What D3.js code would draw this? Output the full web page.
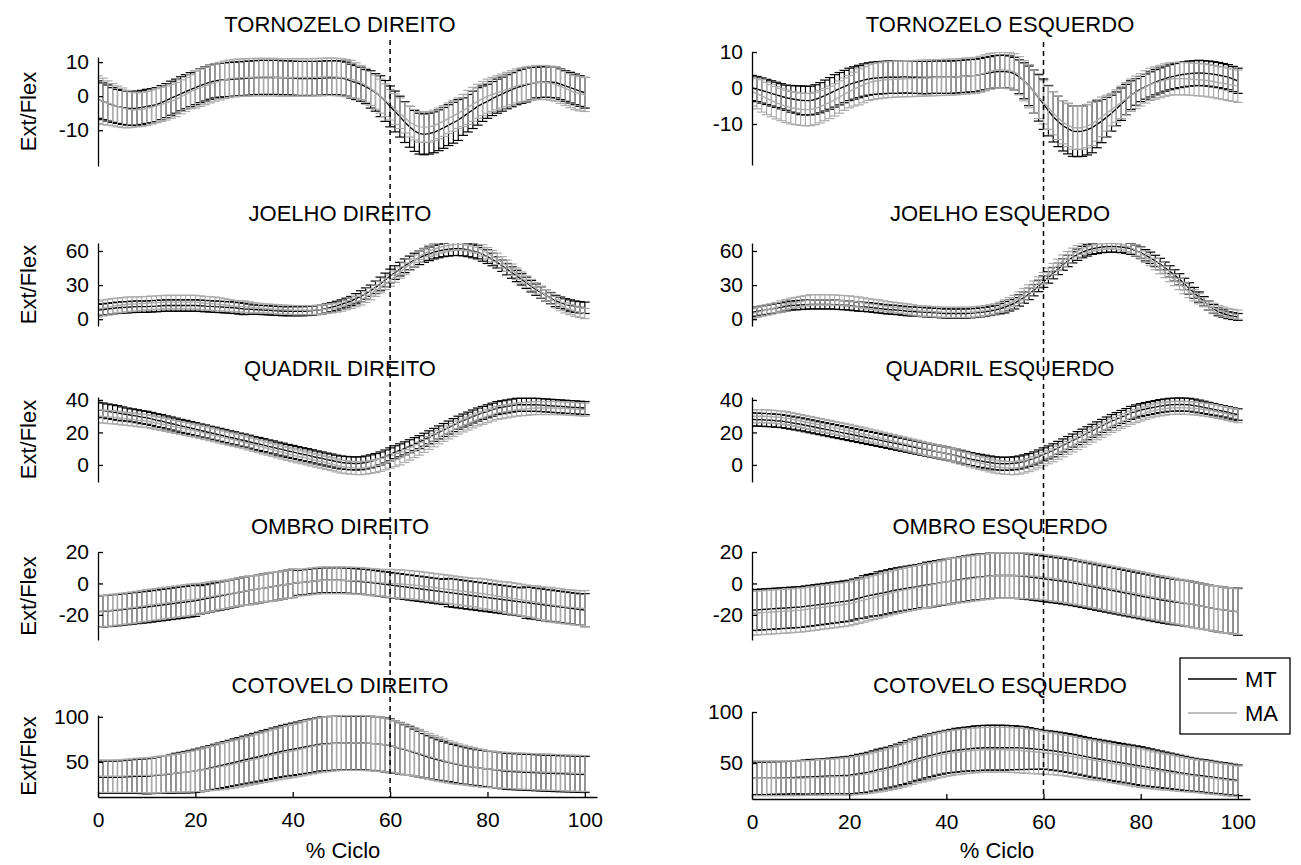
<!DOCTYPE html>
<html>
<head>
<meta charset="utf-8">
<script src="https://cdn.jsdelivr.net/npm/d3@7"></script>
<style>
  body { margin: 0; background: #fff; }
  svg text { font-family: "Liberation Sans", Arial, sans-serif; fill: #000; }
</style>
</head>
<body>
<svg id="fig" width="1301" height="865"></svg>
<script>
// Percentage of the gait cycle for every mean/SD sample
const cyclePct = [0,1,2,3,4,5,6,7,8,9, 10,11,12,13,14,15,16,17,18,19, 20,21,22,23,24,25,26,27,28,29,
  30,31,32,33,34,35,36,37,38,39, 40,41,42,43,44,45,46,47,48,49, 50,51,52,53,54,55,56,57,58,59,
  60,61,62,63,64,65,66,67,68,69, 70,71,72,73,74,75,76,77,78,79, 80,81,82,83,84,85,86,87,88,89,
  90,91,92,93,94,95,96,97,98,99, 100];

const xTicks = [0, 20, 40, 60, 80, 100];
const tornozeloTicks = [-10, 0, 10];
const joelhoTicks = [0, 30, 60];
const quadrilTicks = [0, 20, 40];
const ombroTicks = [-20, 0, 20];
const cotoveloTicks = [50, 100];
const eventPct = 60;          // toe-off marker
const groupNames = ["MT", "MA"];

// ---- Tornozelo direito ----
const tornozeloDirMT = [-1,-1.5,-2,-2.6,-3,-3.3,-3.5,-3.6,-3.5,-3.3, -3,-2.8,-2.5,-1.9,-1.3,-0.6,0,0.7,1.3,1.9,
  2.5,3.1,3.6,4.1,4.5,4.7,4.8,4.9,5,5.1, 5.2,5.3,5.4,5.5,5.5,5.5,5.5,5.5,5.4,5.4,
  5.3,5.2,5.2,5.2,5.2,5.2,5.3,5.4,5.4,5.4, 5.3,5,4.4,4,3.5,2.8,2,1.1,0,-1.4,
  -3,-4.5,-6,-7.6,-9,-10.2,-11,-11.2,-11,-10.6, -10,-9.3,-8.5,-7.8,-7,-6,-5,-4,-3,-2.2,
  -1.5,-0.7,0,0.6,1.3,1.9,2.5,2.9,3.3,3.7, 4,4.1,4.2,4.1,4,3.5,3,2.5,2,1.5, 1];
const tornozeloDirMTsd = [5.5,5.4,5.3,5.1,5,5,5,5,5,5, 5,5,5,5,5,5,5,5,5,5, 5,5,5,5,5,5,5,5,5,5,
  5,5,5,5,5,5,5,5,5,5, 5,5,5,5,5,5,5,5,5,5, 5,5,5,5,5,5,5.5,5.5,6,6,
  6,6,6,6,6,6,6,6,6,6, 6,6,6,6,6,5.5,5.5,5.5,5.5,5.2, 5,5,5,5,5,5,5,5,5,4.8,
  4.5,4.5,4.5,4.5,4.5,4.5,4.5,4.5,4.5,4.5, 4.5];
const tornozeloDirMA = [-1,-1.5,-2,-2.5,-3,-3.4,-3.8,-4,-4,-3.9, -3.6,-3.2,-2.8,-2.4,-2,-1.5,-1,-0.2,0.5,1.3,
  2,2.5,3,3.5,4,4.4,4.8,5.1,5.3,5.4, 5.5,5.5,5.6,5.6,5.6,5.6,5.6,5.5,5.5,5.5,
  5.5,5.5,5.5,5.5,5.5,5.6,5.6,5.7,5.7,5.6, 5.5,5.3,5,4.6,4,3.2,2.3,1.2,0,-1.2,
  -2.5,-3.8,-5,-6.3,-7.5,-8.4,-9,-9.1,-9,-8.6, -8,-7.3,-6.5,-5.8,-5,-4.2,-3.3,-2.4,-1.5,-0.7,
  0,0.5,1,1.5,2,2.5,3,3.3,3.6,3.8, 4,4,4,3.8,3.5,2.9,2.3,1.6,1,0.7, 0.5];
const tornozeloDirMAsd = [7,6.8,6.5,6.2,6,5.8,5.5,5.2,5,5, 5,5,5,5,5,5,5,5,5,5,
  5.5,5.5,5.5,5.5,5.5,5.5,5.5,5.5,5.5,5.5, 5.5,5.5,5.5,5.5,5.5,5.5,5.5,5.5,5.5,5.5,
  5.5,5.5,5.5,5.5,5.5,5.5,5.5,5.5,5.5,5.5, 5.5,5.5,5.5,5.2,5,5,5,5,5,4.8,
  4.5,4.5,4.5,4.5,4.5,4.5,4.5,4.5,4.5,4.5, 4.5,4.5,4.5,4.5,4.5,4.7,5,5,5,5,
  5,5,5,5,5,5,5,5,5,5, 5,5,5,5,5,5,5,5,5,5, 5];

// ---- Joelho direito ----
const joelhoDirMT = [8,8.5,9,9.5,10,10.3,10.5,10.8,11,11, 11,11.3,11.5,11.8,12,12,12,12,12,12,
  12,11.8,11.5,11.3,11,10.8,10.5,10.3,10,9.5, 9,8.8,8.5,8.3,8,7.8,7.5,7.3,7,7,
  7,7,7,7.2,7.5,8,8.5,9.4,10.5,11.7, 13,14.5,16,18,20,22.5,25,28,31,34.5,
  38,41,44,47,49.5,52,54,56,57.5,59, 60,61,61.5,62,62,61.7,61,60,59,57,
  55,52.5,50,47,44,41,38,35,32,29, 26,23.5,21,18.5,16,14.5,13,12,11,10.5, 10];
const joelhoDirMTsd = [5,5,5,5,5,5,5,5,5,5, 5,5,5,5,5,5,5,5,5,5, 5,5,5,5,5,5,5,5,5,5,
  5,4.5,4,4,4,4,4,4,4,4, 4,4,4,4,4,4,4,4,4,4, 4,4,4,4.5,5,5,5,5.5,6,6,
  6,6,6,6,6,6,6,6,6,6, 6,6,6,6,6,6,6,6,6,6, 6,5.5,5,5,5,5,5,5,5,5,
  5,5,5,5,5,5,5,5,5,5, 5];
const joelhoDirMA = [9,9.8,10.5,11.3,12,12.5,13,13.3,13.5,13.8, 14,14.3,14.5,14.8,15,15,15,15,15,15,
  15,14.5,14,13.8,13.5,13,12.5,12,11.5,11.3, 11,10.5,10,9.8,9.5,9.3,9,8.8,8.5,8.3,
  8,8,8,8,8,8.2,8.5,9,9.5,10.2, 11,12.5,14,15.5,17,19.5,22,25,28,31,
  34,37.5,41,44.5,48,51.5,55,57.5,60,61.5, 63,64,65,65.5,66,65.7,65,64,63,60.5,
  58,55.5,53,50,47,43.5,40,36.5,33,30, 27,24,21,18,15,12.5,10,8.5,7,6, 5];
const joelhoDirMAsd = [7,7,7,6.8,6.5,6.5,6.5,6.3,6,6, 6,6,6,6,6,6,6,6,6,6,
  6,6,6,6,6,5.8,5.5,5.2,5,5, 5,4.8,4.5,4.2,4,4,4,4,4,4, 4,4,4,4,4,4,4,4,4,4,
  4,4.2,4.5,4.5,4.5,4.8,5,5,5,5, 5,5,5,5,5,5,5,5,5,5, 5,5,5,5,5,5,5,5,5,5,
  5,5,5,5,5,5,5,5,5,5, 5,5,5,5,5,5,4.5,4.5,4.5,4.5, 4.5];

// ---- Quadril direito ----
const quadrilDirMT = [34,33.6,33,32.5,32,31.4,31,30.5,30,29.4, 29,28.3,27.5,27,26.2,25.5,24.8,24,23.4,22.7,
  22,21.2,20.6,19.8,19.2,18.5,17.8,17,16.4,15.6, 15,14.3,13.5,12.9,12.2,11.4,10.8,10,9.4,8.6,
  8,7.3,6.6,6,5.3,4.6,4,3.3,2.7,2, 1.5,1.2,1,0.9,1,1.5,2.2,3,4,5.2,
  6.5,7.8,9,10.2,11.5,12.8,14,15.5,17,18.5, 20,21.5,23,24.5,26,27.3,28.5,29.8,31,32,
  33,34,35,35.5,36,36.5,37,37,37,37, 37,36.8,36.6,36.4,36.2,36,35.8,35.6,35.4,35.2, 35];
const quadrilDirMTsd = [4.5,4.5,4.5,4.5,4.5,4.3,4,4,4,4, 4,4,4,4,4,4,4,4,4,4, 4,4,4,4,4,4,4,4,4,4,
  4,4,4,4,4,4,4,4,4,4, 4,4,4,4,4,4,4,4,4,4, 4,4,4,4,4,4,4,4,4,4,
  4,4,4,4,4,4,4,4,4,4, 4,4,4,4,4,4,4,4,4,4, 4,4,4,4,4,4,4,4,4,4,
  4,4,4,4,4,4,4,4,4,4, 4];
const quadrilDirMA = [30,29.8,29.5,29.3,29,28.6,28.3,28,27.6,27.3, 27,26.4,25.8,25.2,24.6,24,23.4,22.8,22.2,21.6,
  21,20.3,19.6,18.9,18.2,17.5,16.8,16.1,15.4,14.7, 14,13.2,12.4,11.6,10.8,10,9.2,8.4,7.6,6.8,
  6,5.3,4.7,4,3.3,2.6,2,1.2,0.5,-0.3, -1,-1.4,-1.7,-1.9,-2,-1.7,-1.2,-0.7,0,1,
  2,3,4,5.5,7,8.5,10,11.7,13.5,15.2, 17,18.5,20,21.5,23,24.3,25.5,26.8,28,29,
  30,31,32,32.5,33,33.5,34,34.3,34.5,34.8, 35,35,35,35,35,34.9,34.8,34.6,34.4,34.2, 34];
const quadrilDirMAsd = [4,4,4,4,4,4,4,4,4,4, 4,4,4,4,4,4,4,4,4,4, 4,4,4,4,4,4,4,4,4,4,
  4,4,4,4,4,4,4,4,4,4, 4,4,4,4,4,4,4,4,4,4, 4,4,4,4,4,4,4,4,4,4,
  4,4,4,4,4,4,4,4,4,4, 4,4,4,4,4,4,4,4,4,4, 4,4,4,4,4,4,4,4,4,4,
  4,4,4,4,4,4,4,4,4,4, 4];

// ---- Ombro direito ----
const ombroDirMT = [-18,-17.7,-17.5,-17.2,-17,-16.6,-16.3,-15.9,-15.6,-15.3, -15,-14.6,-14.2,-13.8,-13.4,-13,-12.6,-12.2,-11.8,-11.4,
  -11,-10.4,-9.8,-9.2,-8.6,-8,-7.4,-6.8,-6.2,-5.6, -5,-4.5,-4,-3.5,-3,-2.5,-2,-1.5,-1,-0.5,
  0,0.4,0.7,1,1.4,1.7,2,2,2,2, 2,1.8,1.6,1.4,1.2,0.9,0.6,0.2,-0.2,-0.6,
  -1,-1.4,-1.8,-2.2,-2.6,-3,-3.4,-3.8,-4.2,-4.6, -5,-5.4,-5.8,-6.2,-6.6,-7,-7.4,-7.8,-8.2,-8.6,
  -9,-9.4,-9.8,-10.2,-10.6,-11,-11.4,-11.8,-12.2,-12.6, -13,-13.4,-13.8,-14.2,-14.6,-15,-15.4,-15.8,-16.2,-16.6, -17];
const ombroDirMTsd = [10,10,10,10,10,10,10,10,10,10, 10,10,10,10,10,10,10,10,10,10,
  10,9,9,9,9,9,9,9,9,9, 9,9,9,9,9,9,9,9,9,9, 9,8,8,8,8,8,8,8,8,8,
  8,8,8,8,8,8,8,8,8,8, 8,8,8,8,8,8,8,8,8,8, 8,8,9,9,9,9,9,9,9,9,
  9,9,9,9,9,9,9,9,10,10, 10,10,10,10,10,10,10,10,10,10, 10.5];
const ombroDirMA = [-18,-17.6,-17.3,-16.9,-16.5,-16.2,-15.8,-15.4,-15,-14.5, -14,-13.6,-13.2,-12.8,-12.4,-12,-11.6,-11.2,-10.8,-10.4,
  -10,-9.5,-9,-8.5,-8,-7.5,-7,-6.5,-6,-5.5, -5,-4.5,-4,-3.5,-3,-2.5,-2,-1.5,-1,-0.5,
  0,0.4,0.7,1,1.4,1.7,2,2,2,2, 2,1.9,1.8,1.7,1.6,1.3,1,0.8,0.5,0.3,
  0,-0.2,-0.4,-0.6,-0.8,-1.1,-1.4,-1.8,-2.2,-2.6, -3,-3.4,-3.8,-4.2,-4.6,-5,-5.4,-5.8,-6.2,-6.6,
  -7,-7.5,-8,-8.5,-9,-9.5,-10,-10.5,-11,-11.5, -12,-12.5,-13,-13.5,-14,-14.4,-14.8,-15.1,-15.4,-15.7, -16];
const ombroDirMAsd = [10,10,10,10,10,10,10,10,10,10, 10,10,10,10,10,10,10,10,10,10,
  10,9.5,9.5,9.5,9.5,9,9,9,9,9, 9,9,9,9,9,9,9,9,9,9, 9,8.5,8.5,8.5,8.5,8.5,8.5,8.5,8.5,8.5,
  8.5,8.5,8.5,8.5,8.5,8.5,8.5,8.5,8.5,8.5, 9,9,9,9,9,9,9,9,9,9, 9,9,9,9,9,9,9,9,9.5,9.5,
  9.5,9.5,9.5,9.5,10,10,10,10,10,10, 10.5,10.5,10.5,11,11,11,11,11,11,11, 11.5];

// ---- Cotovelo direito ----
const cotoveloDirMT = [33,33,33,33,33,33.2,33.5,33.7,34,34, 34,34.5,35,35.5,36,36.7,37.5,38,38.5,39.2,
  40,41,42,43.2,44.5,45.7,47,48.2,49.5,50.7, 52,53.2,54.5,55.7,57,58.2,59.5,60.7,62,63,
  64,65,66,67,68,69,70,70.2,70.5,70.8, 71,71,71,71,71,70.8,70.5,70,69.5,68.8,
  68,66.5,65,63.5,62,60.2,58.5,56.7,55,53.5, 52,50.7,49.5,48.2,47,46,45,44.2,43.5,42.7,
  42,41.5,41,40.2,39.5,39.2,39,38.7,38.5,38.2, 38,37.7,37.5,37.2,37,36.9,36.8,36.6,36.4,36.2, 36];
const cotoveloDirMTsd = [18,18,18,18,18,18.2,18.5,18.7,19,19.2, 19.5,19.7,20,20.5,21,21.5,22,22.5,23,23.5,
  24,24.2,24.5,24.7,25,25.2,25.5,25.7,26,26.2, 26.5,26.7,27,27.2,27.5,27.7,28,28.2,28.5,28.7,
  29,29.2,29.5,29.7,30,30,30,30,30,30, 30,30,30,30,30,30,30,30,30,30,
  30,29.2,28.5,27.7,27,26.2,25.5,24.7,24,23.2, 22.5,22,21.5,21.2,21,20.7,20.5,20.2,20,20,
  20,20,20,20,20,20,20,20,20,20, 20,20,20,20,20,20,20,20,20,20, 20];
const cotoveloDirMA = [34,34,34,34,34,34.2,34.5,34.7,35,35, 35,35.2,35.5,36,36.5,37,37.5,38,38.5,39.2,
  40,40.7,41.5,42.5,43.5,44.5,45.5,46.5,47.5,48.7, 50,51.2,52.5,53.7,55,56.2,57.5,58.7,60,61,
  62,63.2,64.5,65.7,67,68,69,69.5,70,70.5, 71,71,71,71,71,70.8,70.5,70,69.5,68.8,
  68,66.7,65.5,64,62.5,61,59.5,57.7,56,54.5, 53,51.5,50,48.7,47.5,46.5,45.5,44.5,43.5,42.7,
  42,41.6,41.2,40.8,40.5,40.2,40,39.7,39.5,39.2, 39,38.8,38.6,38.4,38.2,38,37.8,37.6,37.4,37.2, 37];
const cotoveloDirMAsd = [18,18,18,18,18,18.2,18.5,18.7,19,19.2, 19.5,19.7,20,20.2,20.5,20.7,21,21.5,22,22.5,
  23,23.5,24,24.5,25,25.5,26,26.2,26.5,26.7, 27,27.2,27.5,27.7,28,28.2,28.5,28.7,29,29.2,
  29.5,29.7,30,30.2,30.5,30.5,30.5,30.5,30.5,30.5, 30.5,30.5,30.5,30.5,30.5,30.5,30.5,30.5,30,29.7,
  29.5,29,28.5,28,27.5,27,26.5,26,25.5,25, 24.5,24,23.5,23,22.5,22,21.7,21.5,21,21,
  20.5,20.2,20,20,20,20,20,20,20,20, 20,20,20,20,20,20,20,20,20,20, 20];

// ---- Tornozelo esquerdo ----
const tornozeloEsqMT = [0,-0.3,-0.7,-1.1,-1.5,-1.9,-2.3,-2.7,-3,-3.2, -3.4,-3.5,-3.5,-3.2,-2.7,-2.1,-1.5,-0.8,-0.2,0.4,
  1,1.4,1.8,2.2,2.5,2.7,2.8,2.9,3,3, 3,3.1,3.1,3,3,2.9,2.9,3,3,3,
  3,3,3.1,3.2,3.3,3.4,3.5,3.7,4,4.2, 4.5,4.6,4.6,4.4,4,3.1,2,0.6,-1,-2.7,
  -4.5,-6.3,-8,-9.3,-10.5,-11.3,-12,-12.1,-12,-11.6, -11,-10.1,-9.2,-8.1,-7,-5.8,-4.5,-3.2,-2,-1.1,
  -0.3,0.4,1,1.6,2.1,2.6,3,3.3,3.6,3.8, 4,4.1,4.2,4.1,4,3.8,3.6,3.3,3,2.5, 2];
const tornozeloEsqMTsd = [3.5,3.5,3.5,3.5,3.5,3.5,3.5,3.5,3.7,3.8, 4,4,4,4.1,4.2,4.3,4.4,4.5,4.5,4.5,
  4.5,4.5,4.5,4.5,4.5,4.5,4.5,4.5,4.5,4.5, 4.5,4.5,4.5,4.5,4.5,4.5,4.5,4.5,4.5,4.5,
  4.5,4.5,4.5,4.5,4.5,4.5,4.5,4.5,4.5,4.5, 4.5,4.5,4.5,4.5,4.5,4.7,5,5.5,6,6.5,
  7,7,7,7,7,7,7,7,7,7, 7,6.5,6,5.5,5,4.7,4.5,4.2,4,3.7, 3.5,3.5,3.5,3.5,3.5,3.5,3.5,3.5,3.5,3.5,
  3.5,3.5,3.5,3.5,3.5,3.5,3.5,3.5,3.5,3.5, 3.5];
const tornozeloEsqMA = [-1,-1.6,-2.2,-2.9,-3.5,-4.1,-4.6,-5.1,-5.5,-5.7, -5.9,-6,-6,-5.7,-5.2,-4.6,-4,-3.3,-2.5,-1.7,
  -1,-0.3,0.3,0.9,1.5,1.8,2,2.2,2.3,2.4, 2.5,2.5,2.6,2.6,2.7,2.7,2.8,2.8,2.9,2.9,
  3,3,3.1,3.2,3.3,3.4,3.5,3.8,4.2,4.6, 5,5,5,4.8,4.5,3.4,2,0.5,-1,-2.5,
  -4,-5.5,-7,-8.3,-9.5,-10.3,-11,-11.1,-11,-10.6, -10,-9,-8,-7,-6,-5,-4,-3,-2,-1.2,
  -0.5,0.3,1,1.4,1.8,2.2,2.5,2.6,2.6,2.6, 2.5,2.4,2.3,2.2,2,1.8,1.5,1.3,1,0.8, 0.5];
const tornozeloEsqMAsd = [4,4.2,4.5,4.5,4.5,4.5,4.5,4.5,4.5,4.5, 4.5,4.5,4.5,4.5,4.5,4.5,4.5,4.5,4.5,4.5,
  4.5,4.7,5,5,5,5,5,5,5,5, 5,5,5,5,5,5,5,5,5,5, 5,5,5,5,5,5,5,5,5,5,
  5,5,5,5,5,5.3,5.6,6,6,6, 6,6,6,6,6,6,6,6,6,6, 6,5.8,5.5,5,4.5,4.5,4.5,4.5,4.5,4.5,
  4.5,4.5,4.5,4.5,4.5,4.5,4.5,4.5,4.5,4.5, 4.5,4.5,4.5,4.5,4.5,4.5,4.5,4.5,4.5,4.5, 4.5];

// ---- Joelho esquerdo ----
const joelhoEsqMT = [6,6.7,7.5,8.2,9,9.8,10.5,11.3,12,12.2, 12.5,12.8,13,13,13,13,13,12.8,12.5,12.3,
  12,11.5,11,10.8,10.5,10,9.5,9,8.5,8.3, 8,7.5,7,6.8,6.5,6.3,6,5.8,5.5,5.2,
  5,5,5,5,5,5.2,5.5,6,6.5,7.2, 8,9.2,10.5,12.2,14,16.5,19,22.2,25.5,29.2,
  33,36.7,40.5,44.2,48,51.2,54.5,56.7,59,60.5, 62,62.7,63.5,63.8,64,63.8,63.5,62.8,62,60.2,
  58.5,56.2,54,51.2,48.5,45.2,42,38.5,35,31, 27,23.2,19.5,15.7,12,9.2,6.5,5,3.5,2.7, 2];
const joelhoEsqMTsd = [4,4,4,4,4,4,4,4,4,4, 4,4,4,4,4,4,4,4,4,4, 4,4,4,4,4,4,4,4,4,4,
  4,4,4,4,4,4,4,4,4,4, 4,4,4,4,4,4,4,4,4,4, 4,4.5,5,5,5,5,5,5,5,5,
  5,5,5,5,5,5,5,5,5,5, 5,5,5,5,5,5,5,5,5,5, 5,5,5,5,5,5,5,5,5,5,
  5,4.7,4.5,4.2,4,3.7,3.5,3.2,3,3, 3];
const joelhoEsqMA = [5,6,7,8,9,10.2,11.5,12.7,14,14.7, 15.5,16.2,17,17,17,17,17,16.8,16.5,16.2,
  16,15.5,15,14.2,13.5,13,12.5,11.7,11,10.5, 10,9.5,9,8.2,7.5,7.2,7,6.7,6.5,6.2,
  6,6,6,6,6,6.2,6.5,7,7.5,8.2, 9,10.5,12,14,16,19,22,25.2,28.5,32.2,
  36,40,44,47.7,51.5,54.5,57.5,59.7,62,63.5, 65,65.7,66.5,66.7,67,66.5,66,64.5,63,60.5,
  58,55,52,48.5,45,41.5,38,34.5,31,27.5, 24,21,18,15,12,10,8,6.7,5.5,4.7, 4];
const joelhoEsqMAsd = [4.5,4.5,4.5,4.5,4.5,4.5,4.5,4.5,4.5,4.5, 4.5,4.5,4.5,4.5,4.5,4.5,4.5,4.5,4.5,4.5,
  4.5,4.5,4.5,4.5,4.5,4.5,4.5,4.5,4.5,4.5, 4.5,4.5,4.5,4.5,4.5,4.5,4.5,4.5,4.5,4.5,
  4.5,4.5,4.5,4.5,4.5,4.5,4.5,4.5,4.5,4.5, 4.5,4.5,5,5,5,5,5,5,5,5,
  5,5,5,5,5,5,5,5,5,5, 5,5,5,5,5,5,5,5,5,5, 5,5,5,5,5,5,5,5,5,5,
  5,5,4.5,4,4,4,4,4,4,4, 4];

// ---- Quadril esquerdo ----
const quadrilEsqMT = [28,27.9,27.8,27.6,27.5,27.2,27,26.5,26,25.5, 25,24.4,23.8,23.2,22.6,22,21.4,20.8,20.2,19.6,
  19,18.4,17.8,17.2,16.6,16,15.4,14.8,14.2,13.6, 13,12.4,11.8,11.2,10.6,10,9.4,8.8,8.2,7.6,
  7,6.3,5.7,5,4.3,3.6,3,2.5,2,1.5, 1,0.8,0.7,0.8,1,1.5,2.2,3,4,5.2,
  6.5,7.7,9,10.5,12,13.5,15,16.5,18,19.5, 21,22.5,24,25.5,27,28.2,29.5,30.7,32,32.9,
  33.7,34.4,35,35.6,36.2,36.6,37,37.1,37.2,37.1, 37,36.5,36,35.4,34.8,34.2,33.6,33,32.3,31.6, 31];
const quadrilEsqMTsd = [4,4,4,4,4,4,4,4,4,4, 4,4,4,4,4,4,4,4,4,4, 4,4,4,4,4,4,4,4,4,4,
  4,4,4,4,4,4,4,4,4,4, 4,4,4,4,4,4,4,4,4,4, 4,4,4,4,4,4,4,4,4,4,
  4,4,4,4,4,4,4,4,4,4, 4,4,4,4,4,4,4,4,4,4, 4,4,4,4,4,4,4,4,4,4,
  4,4,3.9,3.8,3.7,3.6,3.5,3.5,3.5,3.5, 3.5];
const quadrilEsqMA = [30,30,30,29.9,29.7,29.5,29.2,28.8,28.3,27.7, 27,26.4,25.8,25.2,24.6,24,23.4,22.8,22.2,21.6,
  21,20.3,19.6,18.9,18.2,17.5,16.8,16.1,15.4,14.7, 14,13.3,12.6,11.9,11.2,10.5,9.8,9.1,8.4,7.7,
  7,6.2,5.3,4.5,3.7,2.8,2,1.2,0.5,-0.3, -1,-1.4,-1.7,-1.9,-2,-1.6,-1,-0.1,1,2.2,
  3.5,4.7,6,7.5,9,10.5,12,13.5,15,16.5, 18,19.5,21,22.5,24,25.2,26.5,27.7,29,30,
  31,32,33,33.6,34.2,34.6,35,35.1,35.2,35.1, 35,34.8,34.5,34.1,33.7,33.2,32.6,32,31.3,30.6, 30];
const quadrilEsqMAsd = [4,4,4,4,4,4,4,4,4,4, 4,4,4,4,4,4,4,4,4,4, 4,4,4,4,4,4,4,4,4,4,
  4,4,4,4,4,4,4,4,4,4, 4,4,4,4,4,4,4,4,4,4, 4,4,4,4,4,4,4,4,4,4,
  4,4,4,4,4,4,4,4,4,4, 4,4,4,4,4,4,4,4,4,4, 4,4,4,4,4,4,4,4,4,4,
  4,4,4,4,4,4,4,4,4,4, 4];

// ---- Ombro esquerdo ----
const ombroEsqMT = [-17,-16.8,-16.6,-16.4,-16.2,-16,-15.8,-15.6,-15.4,-15.2, -15,-14.6,-14.2,-13.8,-13.4,-13,-12.6,-12.2,-11.8,-11.4,
  -11,-10.2,-9.4,-8.6,-7.8,-7.2,-6.6,-6,-5.3,-4.6, -4,-3.5,-3,-2.5,-2,-1.5,-1,-0.5,0,0.5,
  1,1.5,2,2.5,3,3.5,4,4.2,4.5,4.8, 5,5,5,5,5,4.8,4.6,4.2,3.8,3.4,
  3,2.6,2.2,1.8,1.4,0.9,0.4,-0.2,-0.8,-1.4, -2,-2.6,-3.2,-3.8,-4.4,-5,-5.6,-6.2,-6.8,-7.4,
  -8,-8.6,-9.2,-9.8,-10.4,-10.9,-11.4,-11.8,-12.2,-12.6, -13,-13.6,-14.2,-14.8,-15.4,-15.9,-16.4,-16.8,-17.2,-17.6, -18];
const ombroEsqMTsd = [13,13,13,13,13,13,13,13,13,13, 13,13,13,13,13,13,13,13,13,13,
  13,13,13,13.5,13.5,13.5,14,14,14,14, 14,14,14,14,14,14,14.5,14.5,14.5,14.5,
  14.5,14.5,14.5,14.5,14.5,14.5,14.5,14.5,14.5,14.5, 14.5,14.5,14.5,14.5,14.5,14.5,14.5,14.5,14.5,14.5,
  14.5,14.5,14.5,14.5,14.5,14.5,14.5,14.5,14.5,14.5, 14.5,14.5,14.5,14.5,14.5,14.5,14.5,14.5,14.5,14.5,
  14.5,14.5,14.5,14.5,14.5,14.5,14.5,14.5,14.5,14.5, 14.5,14.5,14.5,14.5,14.5,14.5,14.5,14.5,14.5,14.5, 15];
const ombroEsqMA = [-19,-18.8,-18.6,-18.4,-18.2,-18,-17.8,-17.6,-17.4,-17.2, -17,-16.6,-16.2,-15.8,-15.4,-15,-14.6,-14.2,-13.8,-13.4,
  -13,-12.2,-11.4,-10.6,-9.8,-9,-8.2,-7.4,-6.6,-5.8, -5,-4.4,-3.8,-3.2,-2.6,-2,-1.4,-0.8,-0.2,0.4,
  1,1.4,1.8,2.2,2.6,3,3.4,3.8,4.2,4.6, 5,5,5,5,5,5,4.9,4.8,4.6,4.4,
  4,3.6,3.2,2.8,2.4,1.9,1.4,0.8,0.2,-0.4, -1,-1.6,-2.2,-2.8,-3.4,-4,-4.6,-5.2,-5.8,-6.4,
  -7,-7.6,-8.2,-8.8,-9.4,-10,-10.6,-11.2,-11.8,-12.4, -13,-13.6,-14.2,-14.8,-15.4,-15.9,-16.4,-16.8,-17.2,-17.6, -18];
const ombroEsqMAsd = [14,14,14,14,14,14,14,14,14,14, 14,14,14,14,14,14,14,14,14,14,
  14,14,14,14,14,14,14,14,14,14, 14,14,14,14,14,14,14,14,14,14,
  14.5,14.5,14.5,14.5,14.5,14.5,14.5,14.5,14.5,14.5, 14.5,14.5,14.5,14.5,14.5,14.5,14.5,14.5,14.5,14.5,
  14.5,14.5,14.5,14.5,14.5,14.5,14.5,14.5,14.5,14.5, 14.5,14.5,14.5,14.5,14.5,14.5,14.5,14.5,14.5,14.5,
  14.5,14.5,14.5,14.5,14.5,14.5,14.5,14.5,14.5,14.5, 14.5,14.5,14.5,14.5,14.5,14.5,14.5,14.5,14.5,14.5, 14.5];

// ---- Cotovelo esquerdo ----
const cotoveloEsqMT = [35,35,35,35.1,35.2,35.3,35.4,35.5,35.7,35.8, 36,36.2,36.4,36.6,36.8,37,37.2,37.4,37.6,37.8,
  38,38.7,39.5,40.2,41,42.2,43.5,44.5,45.5,46.7, 48,49.5,51,52.5,54,55.2,56.5,57.7,59,60,
  61,61.7,62.5,63,63.6,64,64.4,64.7,65,65, 65,65,65,65,65,64.8,64.6,64.2,63.8,63.4,
  63,62.5,62,61.3,60.6,59.8,59,58,57,56, 55,54.2,53.4,52.6,51.8,51,50.2,49.4,48.6,47.8,
  47,46.2,45.4,44.6,43.8,43,42.2,41.4,40.6,39.8, 39,38.4,37.8,37.2,36.6,36,35.4,34.8,34.2,33.6, 33];
const cotoveloEsqMTsd = [16,16,16,16,16,16,16,16,16,16, 16.5,16.7,17,17,17,17.2,17.5,17.7,18,18.2,
  18.5,18.7,19,19.2,19.5,19.7,20,20,20,20.2, 20.5,20.7,21,21,21,21,21,21,21,21,
  21,21.2,21.5,21.5,21.5,21.7,22,22,22,22, 22,22,22,21.7,21.5,21.2,21,20.5,20,19.5,
  19,19,19,19,19,19,19,19,19,19, 19,19,19,19,19,19,19,19,19,19,
  19,18.7,18.5,18.2,18,17.7,17.5,17.2,17,16.7, 16.5,16.2,16,16,16,15.7,15.5,15.5,15.5,15.2, 15];
const cotoveloEsqMA = [35,35,35,35,35,35,35,35,35,35, 35,35.2,35.4,35.6,35.8,36,36.2,36.4,36.6,36.8,
  37,37.6,38.2,38.9,39.5,40.5,41.5,42.5,43.5,44.7, 46,47.5,49,50.5,52,53.2,54.5,55.7,57,58,
  59,59.7,60.5,61,61.6,62,62.4,62.7,63,63, 63,63,63,62.8,62.6,62.3,62,61.5,61,60.5,
  60,59.5,59,58.3,57.6,56.9,56.2,55.4,54.6,53.8, 53,52.2,51.4,50.6,49.8,49,48.2,47.4,46.6,45.8,
  45,44.2,43.4,42.6,41.8,41.2,40.6,39.9,39.2,38.6, 38,37.4,36.8,36.2,35.6,35,34.4,33.8,33.2,32.6, 32];
const cotoveloEsqMAsd = [17,17,17,17,17,17,17,17,17,17, 17,17,17,17.2,17.5,17.5,17.5,17.7,18,18.2,
  18.5,18.7,19,19.2,19.5,19.7,20,20.2,20.5,20.7, 21,21.2,21.5,21.5,21.5,21.7,22,22,22,22,
  22,22,22,22,22,22,22,22,22,22, 22,22,22,22,22,22,22,21.7,21.5,21.2,
  21,20.7,20.5,20.2,20,20,20,19.7,19.5,19.5, 19.5,19.2,19,19,19,19,19,19,19,19,
  19,18.7,18.5,18.2,18,17.7,17.5,17.2,17,16.7, 16.5,16.2,16,16,16,15.7,15.5,15.5,15.5,15.2, 15];

// ---------------- layout ----------------
const svg = d3.select("#fig");
const colorMT = "#000000";
const colorMA = "#ababab";
const xDomain = [0, 102.5];

const columns = [
  { x0: 98,  x1: 597,  titleX: 340,  labelX: 343 },
  { x0: 752, x1: 1250, titleX: 1000, labelX: 997 }
];
const rowLayout = [
  { titleY: 32,  cells: [{ top: 57, bottom: 166, lo: -20.5, hi: 11.5 }, { top: 52, bottom: 165, lo: -21.4, hi: 10 }] },
  { titleY: 221, cells: [{ top: 243, bottom: 326, lo: -6, hi: 67 },     { top: 243, bottom: 326, lo: -6, hi: 67 }] },
  { titleY: 376, cells: [{ top: 397, bottom: 482, lo: -10.5, hi: 41.8 },{ top: 397, bottom: 482, lo: -10.5, hi: 41.8 }] },
  { titleY: 534, cells: [{ top: 552, bottom: 640, lo: -36, hi: 20 },    { top: 552, bottom: 640, lo: -36, hi: 20 }] },
  { titleY: 693, cells: [{ top: 715, bottom: 797, lo: 11, hi: 102 },    { top: 712, bottom: 799, lo: 14.7, hi: 100 }] }
];

const panels = [
  { row: 0, col: 0, title: "TORNOZELO DIREITO",  ticks: tornozeloTicks, mt: tornozeloDirMT, mtSd: tornozeloDirMTsd, ma: tornozeloDirMA, maSd: tornozeloDirMAsd },
  { row: 1, col: 0, title: "JOELHO DIREITO",     ticks: joelhoTicks,    mt: joelhoDirMT,    mtSd: joelhoDirMTsd,    ma: joelhoDirMA,    maSd: joelhoDirMAsd },
  { row: 2, col: 0, title: "QUADRIL DIREITO",    ticks: quadrilTicks,   mt: quadrilDirMT,   mtSd: quadrilDirMTsd,   ma: quadrilDirMA,   maSd: quadrilDirMAsd },
  { row: 3, col: 0, title: "OMBRO DIREITO",      ticks: ombroTicks,     mt: ombroDirMT,     mtSd: ombroDirMTsd,     ma: ombroDirMA,     maSd: ombroDirMAsd },
  { row: 4, col: 0, title: "COTOVELO DIREITO",   ticks: cotoveloTicks,  mt: cotoveloDirMT,  mtSd: cotoveloDirMTsd,  ma: cotoveloDirMA,  maSd: cotoveloDirMAsd },
  { row: 0, col: 1, title: "TORNOZELO ESQUERDO", ticks: tornozeloTicks, mt: tornozeloEsqMT, mtSd: tornozeloEsqMTsd, ma: tornozeloEsqMA, maSd: tornozeloEsqMAsd },
  { row: 1, col: 1, title: "JOELHO ESQUERDO",    ticks: joelhoTicks,    mt: joelhoEsqMT,    mtSd: joelhoEsqMTsd,    ma: joelhoEsqMA,    maSd: joelhoEsqMAsd },
  { row: 2, col: 1, title: "QUADRIL ESQUERDO",   ticks: quadrilTicks,   mt: quadrilEsqMT,   mtSd: quadrilEsqMTsd,   ma: quadrilEsqMA,   maSd: quadrilEsqMAsd },
  { row: 3, col: 1, title: "OMBRO ESQUERDO",     ticks: ombroTicks,     mt: ombroEsqMT,     mtSd: ombroEsqMTsd,     ma: ombroEsqMA,     maSd: ombroEsqMAsd },
  { row: 4, col: 1, title: "COTOVELO ESQUERDO",  ticks: cotoveloTicks,  mt: cotoveloEsqMT,  mtSd: cotoveloEsqMTsd,  ma: cotoveloEsqMA,  maSd: cotoveloEsqMAsd }
];

// Mean curve with ±SD error bars (vertical whisker + caps at both ends)
function drawErrorSeries(g, x, y, mean, sd, color) {
  const pts = cyclePct.map((p, i) => ({ p, m: mean[i], s: sd[i] }));
  const cap = 1; // cap half-width in % of cycle
  const s = g.append("g").attr("stroke", color).attr("stroke-width", 1.2).attr("fill", "none");
  s.append("path")
    .datum(pts)
    .attr("stroke-width", 1.4)
    .attr("d", d3.line().x(d => x(d.p)).y(d => y(d.m)));
  s.selectAll("line.bar").data(pts).join("line").attr("class", "bar")
    .attr("x1", d => x(d.p)).attr("x2", d => x(d.p))
    .attr("y1", d => y(d.m - d.s)).attr("y2", d => y(d.m + d.s));
  s.selectAll("line.capHi").data(pts).join("line").attr("class", "capHi")
    .attr("x1", d => x(d.p - cap)).attr("x2", d => x(d.p + cap))
    .attr("y1", d => y(d.m + d.s)).attr("y2", d => y(d.m + d.s));
  s.selectAll("line.capLo").data(pts).join("line").attr("class", "capLo")
    .attr("x1", d => x(d.p - cap)).attr("x2", d => x(d.p + cap))
    .attr("y1", d => y(d.m - d.s)).attr("y2", d => y(d.m - d.s));
}

function styleAxis(g, size) {
  g.attr("font-family", null).attr("font-size", null);
  g.selectAll("path.domain").attr("stroke", "#000").attr("stroke-width", 1.3);
  g.selectAll(".tick line").attr("stroke", "#000").attr("stroke-width", 1.3);
  g.selectAll(".tick text").style("font-size", size + "px").attr("fill", "#000");
}

const xScales = [];

panels.forEach((p, i) => {
  const col = columns[p.col];
  const cell = rowLayout[p.row].cells[p.col];
  const x = d3.scaleLinear().domain(xDomain).range([col.x0, col.x1]);
  const y = d3.scaleLinear().domain([cell.lo, cell.hi]).range([cell.bottom, cell.top]);
  xScales[p.col] = x;

  svg.append("clipPath").attr("id", "plotclip" + i)
    .append("rect")
    .attr("x", col.x0).attr("y", cell.top)
    .attr("width", col.x1 - col.x0).attr("height", cell.bottom - cell.top);

  const plot = svg.append("g").attr("clip-path", `url(#plotclip${i})`);
  drawErrorSeries(plot, x, y, p.mt, p.mtSd, colorMT);
  drawErrorSeries(plot, x, y, p.ma, p.maSd, colorMA);

  const yAxis = svg.append("g")
    .attr("transform", `translate(${col.x0},0)`)
    .call(d3.axisLeft(y).tickValues(p.ticks).tickSizeInner(-5).tickSizeOuter(0)
      .tickPadding(9).tickFormat(d => String(d)));
  styleAxis(yAxis, 21);

  svg.append("text")
    .attr("x", col.titleX).attr("y", rowLayout[p.row].titleY)
    .attr("text-anchor", "middle").style("font-size", "22px")
    .text(p.title);

  if (p.col === 0) {
    const cy = (cell.top + cell.bottom) / 2;
    svg.append("text")
      .attr("transform", `translate(36,${cy}) rotate(-90)`)
      .attr("text-anchor", "middle").style("font-size", "22px")
      .text("Ext/Flex");
  }

  if (p.row === 4) {
    const xAxis = svg.append("g")
      .attr("transform", `translate(0,${cell.bottom})`)
      .call(d3.axisBottom(x).tickValues(xTicks).tickSizeInner(-5).tickSizeOuter(0)
        .tickPadding(15).tickFormat(d => String(d)));
    styleAxis(xAxis, 21);
    svg.append("text")
      .attr("x", col.labelX).attr("y", 858)
      .attr("text-anchor", "middle").style("font-size", "22px")
      .text("% Ciclo");
  }
});

// Dashed toe-off marker through every panel of each column
columns.forEach((col, c) => {
  const bottom = rowLayout[4].cells[c].bottom;
  svg.append("line")
    .attr("x1", xScales[c](eventPct)).attr("x2", xScales[c](eventPct))
    .attr("y1", c === 0 ? 40 : 42).attr("y2", bottom)
    .attr("stroke", "#000").attr("stroke-width", 1.5)
    .attr("stroke-dasharray", "5,4");
});

// Legend
const legend = svg.append("g").attr("transform", "translate(1180,658)");
legend.append("rect").attr("width", 110).attr("height", 76)
  .attr("fill", "#fff").attr("stroke", "#000").attr("stroke-width", 1.3);
[colorMT, colorMA].forEach((c, i) => {
  const ly = 21 + i * 34;
  legend.append("line").attr("x1", 8).attr("x2", 57).attr("y1", ly).attr("y2", ly)
    .attr("stroke", c).attr("stroke-width", 1.5);
  legend.append("text").attr("x", 65).attr("y", ly + 8).style("font-size", "22px")
    .text(groupNames[i]);
});
</script>
</body>
</html>
